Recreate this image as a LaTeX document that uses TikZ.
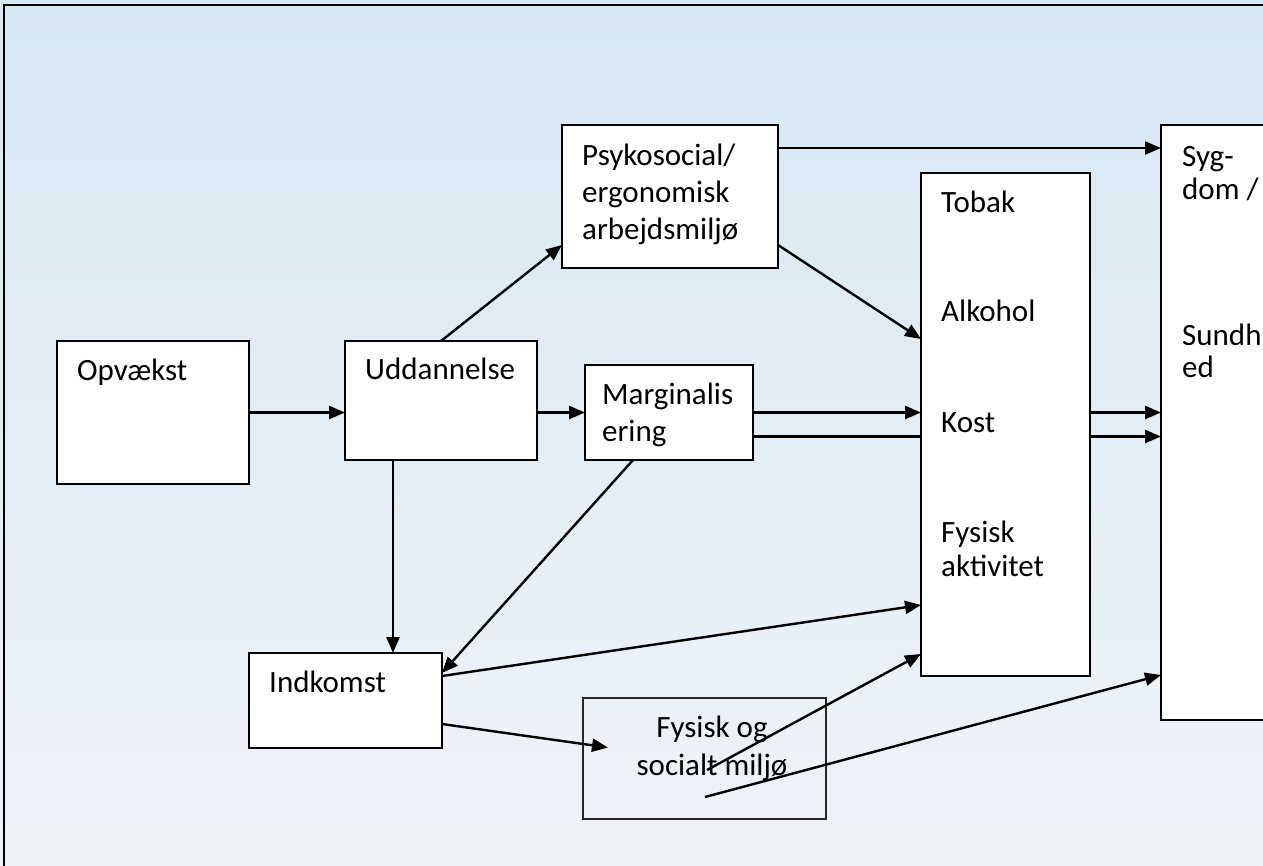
\documentclass[tikz,border=0pt]{standalone}
\usepackage{fontspec}
\setmainfont{Carlito}
\usetikzlibrary{arrows.meta}
\definecolor{bgtop}{RGB}{214,232,243}
\definecolor{bgbot}{RGB}{239,243,248}
\begin{document}
\begin{tikzpicture}[x=1pt,y=-1pt,
  box/.style={draw=black, line width=2.4pt, fill=white, inner sep=0pt, outer sep=0pt, anchor=north west},
  txt/.style={font=\fontsize{31}{37}\selectfont, inner sep=0pt, anchor=base west},
  arr/.style={line width=2.4pt, -{Triangle[length=16pt,width=13pt]}},
  ln/.style={line width=2.4pt}]
\useasboundingbox (0,0) rectangle (1263,865);
\clip (0,0) rectangle (1263,865);
\shade[top color=bgtop, bottom color=bgbot] (0,0) rectangle (1263,865);
\draw[line width=2pt] (4,900) -- (4,5) -- (1300,5);
% boxes
\node[box, minimum width=192pt, minimum height=143pt] (opv) at (57,341) {};
\node[box, minimum width=192pt, minimum height=119pt] (udd) at (345,341) {};
\node[box, minimum width=216pt, minimum height=143pt] (psy) at (562,125) {};
\node[box, minimum width=168pt, minimum height=95pt] (marg) at (585,365) {};
\node[box, minimum width=169pt, minimum height=503pt] (tob) at (921,173) {};
\node[box, minimum width=159pt, minimum height=595pt] (syg) at (1161,125) {};
\node[box, minimum width=193pt, minimum height=95pt] (ind) at (249,653) {};
\node[box, fill=none, draw=black!85, line width=1.8pt, minimum width=243pt, minimum height=121pt] (fys) at (583,698) {};
% texts
\node[txt] (t-opv) at (77,380) {Opvækst};
\node[txt] (t-udd) at (365,379) {Uddannelse};
\node[txt] (t-psy1) at (582,165) {Psykosocial/};
\node[txt] (t-psy2) at (582,202) {ergonomisk};
\node[txt] (t-psy3) at (582,239) {arbejdsmiljø};
\node[txt] (t-marg1) at (602,404) {Marginalis};
\node[txt] (t-marg2) at (602,441) {ering};
\node[txt] (t-tob1) at (941,212) {Tobak};
\node[txt] (t-tob2) at (941,321) {Alkohol};
\node[txt] (t-tob3) at (941,432) {Kost};
\node[txt] (t-tob4) at (941,542) {Fysisk};
\node[txt] (t-tob5) at (941,576) {aktivitet};
\node[txt] (t-syg1) at (1182,166) {Syg-};
\node[txt] (t-syg2) at (1182,199) {dom /};
\node[txt] (t-syg3) at (1182,345) {Sundh};
\node[txt] (t-syg4) at (1182,377) {ed};
\node[txt] (t-ind) at (269,692) {Indkomst};
\node[txt, anchor=base] (t-fys1) at (712,737) {Fysisk og};
\node[txt, anchor=base] (t-fys2) at (712,775) {socialt miljø};
% free line starts inside the Fysisk box
\coordinate (f1) at (707,770);
\coordinate (f2) at (705,797);
% connectors
\draw[arr] (opv.east) -- (opv.east -| udd.west);
\draw[arr] (udd.north) -- ([yshift=23pt]psy.south west);
\draw[arr] (udd.east |- marg.west) -- (marg.west);
\draw[arr] ([xshift=-48pt]udd.south) -- ([xshift=-48pt]udd.south |- ind.north);
\draw[arr] ([xshift=-36pt]marg.south) -- ([yshift=-20pt]ind.north east);
\draw[arr] ([yshift=-23pt]ind.north east) -- ([yshift=71pt]tob.south west);
\draw[arr] ([yshift=24pt]ind.south east) -- ([xshift=25pt,yshift=11pt]fys.west);
\draw[arr] ([yshift=-23pt]psy.north east) -- ([yshift=-23pt]psy.north east -| syg.west);
\draw[arr] ([yshift=23pt]psy.south east) -- ([yshift=-166pt]tob.north west);
\draw[arr] (marg.east) -- (marg.east -| tob.west);
\draw[ln] ([yshift=-24pt]marg.east) -- ([yshift=-24pt]marg.east -| tob.west);
\draw[arr] (marg.east -| tob.east) -- (marg.east -| syg.west);
\draw[arr] ([yshift=-24pt]marg.east -| tob.east) -- ([yshift=-24pt]marg.east -| syg.west);
\draw[arr] (f1) -- ([yshift=22pt]tob.south west);
\draw[arr] (f2) -- ([yshift=45pt]syg.south west);
\end{tikzpicture}
\end{document}
